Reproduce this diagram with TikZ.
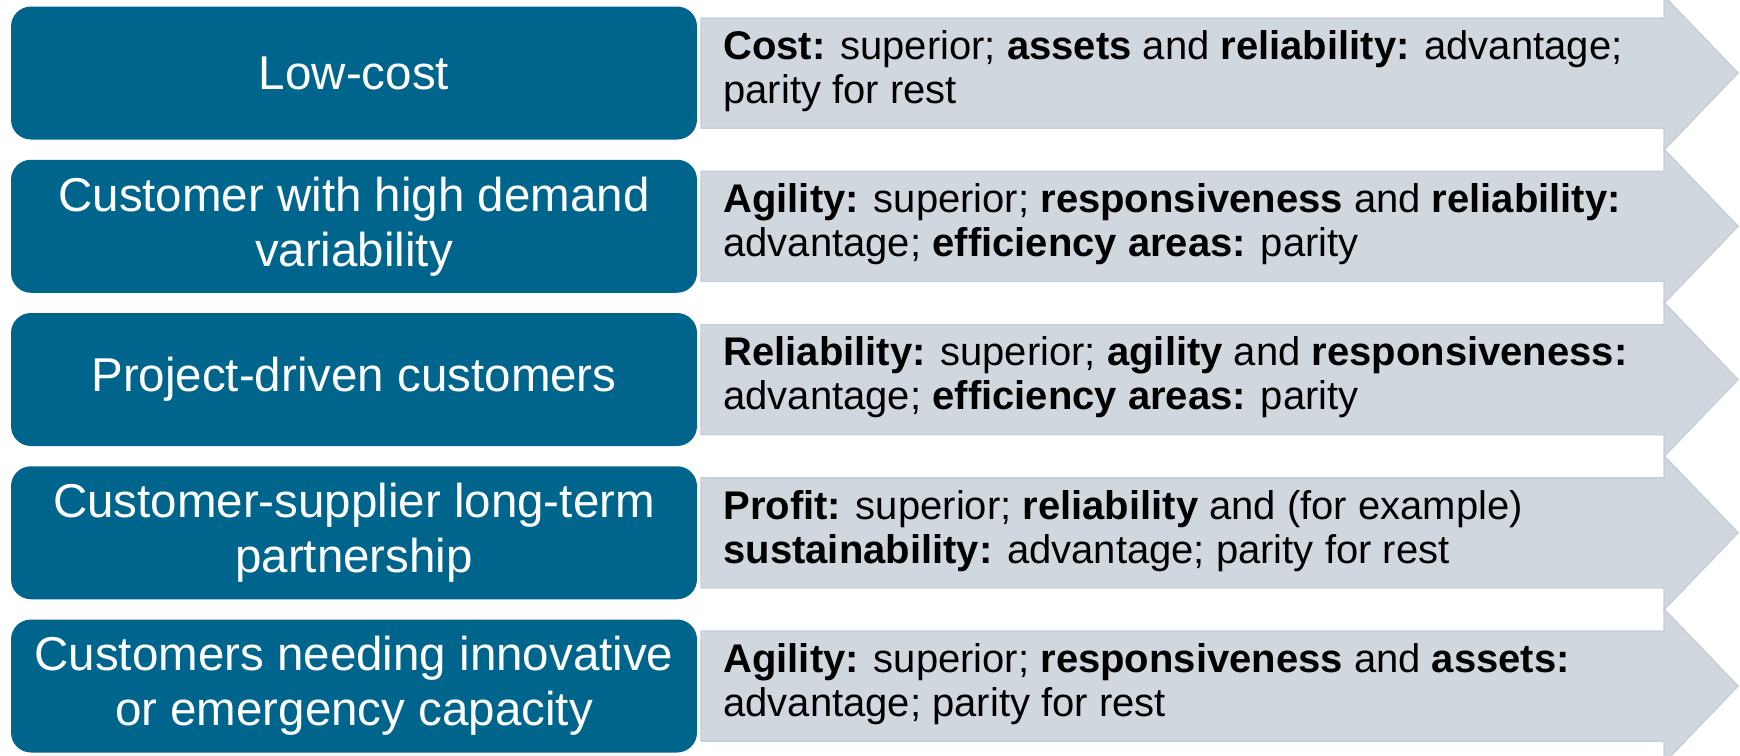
\documentclass[tikz,border=0pt]{standalone}
\usepackage{fontspec}
\setmainfont{Liberation Sans}
\definecolor{boxblue}{RGB}{0,101,141}
\definecolor{arrowgrey}{RGB}{209,215,223}
\definecolor{arrowedge}{RGB}{199,207,216}
\begin{document}
\begin{tikzpicture}[x=0.5pt,y=-0.5pt,
  bluebox/.style={fill=boxblue, rounded corners=10pt, minimum width=343pt,
    minimum height=66.5pt, text=white, align=center, inner sep=0pt,
    font=\fontsize{23.75}{27.5}\selectfont},
  greyarrow/.style={fill=arrowgrey, draw=arrowedge, line width=0.75pt},
  desc/.style={anchor=west, align=left, inner sep=0pt, text=black,
    font=\fontsize{20}{22}\selectfont},
  arrowshape/.pic={\draw[greyarrow] (701,-55) -- (1664,-55) -- (1664,-77)
    -- (1738,0) -- (1664,77) -- (1664,55) -- (701,55) -- cycle;}]
\useasboundingbox (0,0) rectangle (1740,755);

% grey arrows
\pic at (0,73) {arrowshape};
\pic at (0,226.25) {arrowshape};
\pic at (0,379.5) {arrowshape};
\pic at (0,532.75) {arrowshape};
\pic at (0,686) {arrowshape};

% blue boxes
\node[bluebox] (b1) at (354,73) {Low-cost};
\node[bluebox] (b2) at (354,226.25) {Customer with high demand\\variability};
\node[bluebox] (b3) at (354,379.5) {Project-driven customers};
\node[bluebox] (b4) at (354,532.75) {Customer-supplier long-term\\partnership};
\node[bluebox] (b5) at (354,686) {Customers needing innovative\\or emergency capacity};

% descriptions
\node[desc] (d1) at (723,71) {\textbf{Cost:} superior; \textbf{assets} and \textbf{reliability:} advantage;\\parity for rest};
\node[desc] (d2) at (723,224.25) {\textbf{Agility:} superior; \textbf{responsiveness} and \textbf{reliability:}\\advantage; \textbf{efficiency areas:} parity};
\node[desc] (d3) at (723,377.5) {\textbf{Reliability:} superior; \textbf{agility} and \textbf{responsiveness:}\\advantage; \textbf{efficiency areas:} parity};
\node[desc] (d4) at (723,530.75) {\textbf{Profit:} superior; \textbf{reliability} and (for example)\\\textbf{sustainability:} advantage; parity for rest};
\node[desc] (d5) at (723,684) {\textbf{Agility:} superior; \textbf{responsiveness} and \textbf{assets:}\\advantage; parity for rest};
\end{tikzpicture}
\end{document}
